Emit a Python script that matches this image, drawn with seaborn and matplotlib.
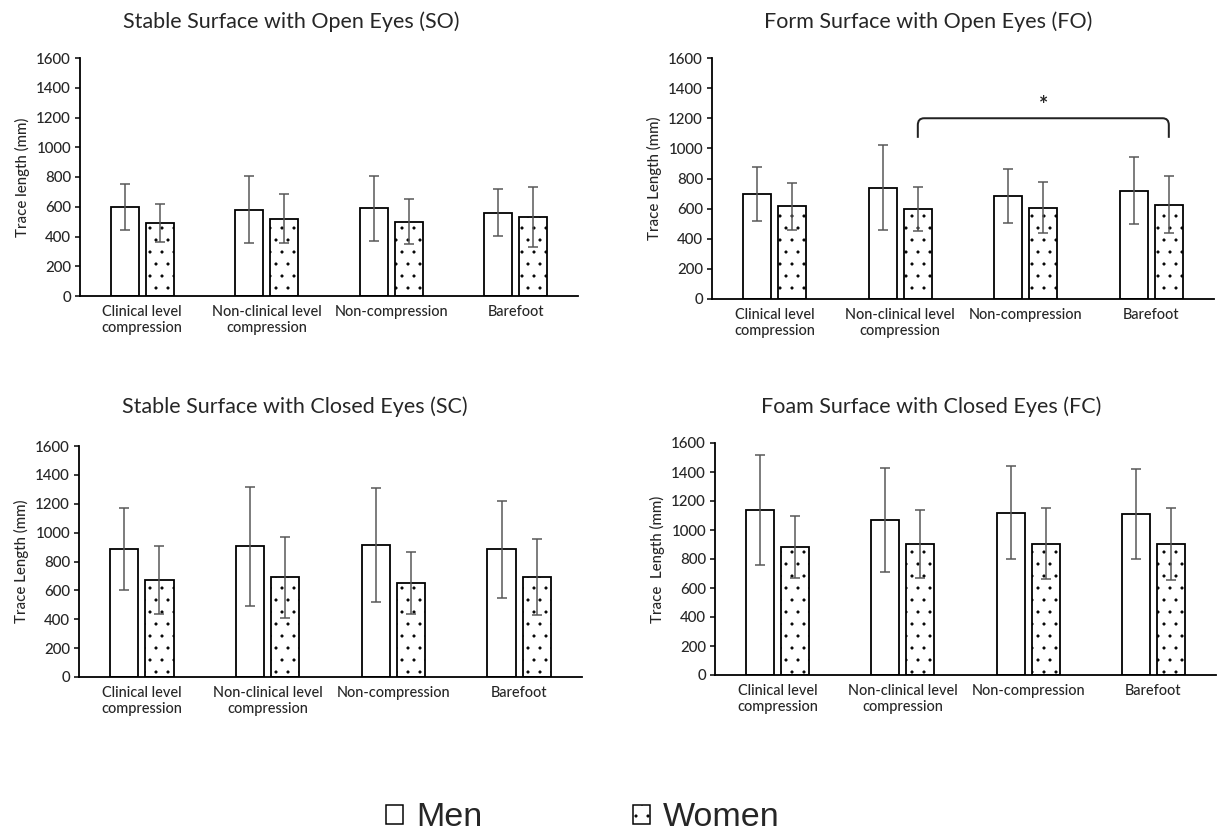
import numpy as np
import pandas as pd
import matplotlib
matplotlib.use("Agg")
import matplotlib.pyplot as plt
import seaborn as sns
from matplotlib.patches import Patch, PathPatch
from matplotlib.path import Path

# --- data ---
devices = ["Clinical level\ncompression", "Non-clinical level\ncompression",
           "Non-compression", "Barefoot"]
sexes = ["Men", "Women"]

so_men = [600, 580, 590, 560]
so_men_sd = [155, 225, 220, 158]
so_women = [490, 520, 500, 530]
so_women_sd = [130, 165, 150, 200]

fo_men = [695, 740, 685, 720]
fo_men_sd = [180, 285, 178, 222]
fo_women = [615, 598, 605, 625]
fo_women_sd = [155, 146, 170, 190]

sc_men = [885, 905, 915, 885]
sc_men_sd = [285, 410, 395, 335]
sc_women = [670, 690, 650, 690]
sc_women_sd = [237, 278, 213, 263]

fc_men = [1140, 1070, 1120, 1110]
fc_men_sd = [378, 360, 322, 313]
fc_women = [885, 905, 905, 905]
fc_women_sd = [215, 235, 245, 250]

titles = ["Stable Surface with Open Eyes (SO)", "Form Surface with Open Eyes (FO)",
          "Stable Surface with Closed Eyes (SC)", "Foam Surface with Closed Eyes (FC)"]
ylabels = ["Trace length (mm)", "Trace Length (mm)",
           "Trace Length (mm)", "Trace  Length (mm)"]
yticks = [0, 200, 400, 600, 800, 1000, 1200, 1400, 1600]

# significance bracket in FO panel (between women bars)
sig_pair = (1, 3)
sig_y = 1200
sig_label = "*"

panels = [
    (so_men, so_men_sd, so_women, so_women_sd),
    (fo_men, fo_men_sd, fo_women, fo_women_sd),
    (sc_men, sc_men_sd, sc_women, sc_women_sd),
    (fc_men, fc_men_sd, fc_women, fc_women_sd),
]

W, H, DPI = 1223, 835, 72

sns.set_theme(style="white")
plt.rcParams['font.family'] = ['Lato', 'DejaVu Sans']
plt.rcParams['hatch.linewidth'] = 0.6

fig = plt.figure(figsize=(W / DPI, H / DPI), dpi=DPI)

# axes boxes in pixels: left, right, top, bottom
boxes = [(80, 578, 58, 296), (712, 1214, 58, 299),
         (79, 582, 446, 677), (715, 1216, 443, 675)]
title_pos = [(291, 22), (928, 22), (295, 407), (931, 407)]

for i, (men, men_sd, women, women_sd) in enumerate(panels):
    l, r, t, b = boxes[i]
    ax = fig.add_axes([l / W, 1 - b / H, (r - l) / W, (b - t) / H])

    df = pd.DataFrame({
        "device": devices * 2,
        "sex": ["Men"] * 4 + ["Women"] * 4,
        "trace": men + women,
        "sd": men_sd + women_sd,
    })

    sns.barplot(data=df, x="device", y="trace", hue="sex", order=devices,
                hue_order=sexes, palette=["white", "white"], saturation=1,
                edgecolor="black", linewidth=1.8, width=0.56, gap=0.2,
                errorbar=None, legend=False, ax=ax)

    # dotted fill for women
    for bar in ax.containers[1]:
        bar.set_hatch(".")

    # error bars
    for cont, sds in zip(ax.containers, [men_sd, women_sd]):
        xs = [p.get_x() + p.get_width() / 2 for p in cont]
        ys = [p.get_height() for p in cont]
        ax.errorbar(xs, ys, yerr=sds, fmt="none", ecolor="#555555",
                    elinewidth=1.5, capsize=5, capthick=1.5, zorder=5)

    ax.set_xlim(-0.5, 3.5)
    ax.set_ylim(0, 1600)
    ax.set_yticks(yticks)
    ax.set_yticklabels([str(v) for v in yticks], fontsize=15, fontweight="medium")
    ax.set_xticks(range(len(devices)))
    ax.set_xticklabels(devices, fontsize=14.5, linespacing=1.2, fontweight="medium")
    ax.set_xticks(np.arange(-0.5, 4.0, 1.0), minor=True)
    ax.tick_params(axis="x", which="major", length=0, pad=9)
    ax.tick_params(axis="x", which="minor", length=10, width=1.5,
                   direction="inout", color="black")
    ax.tick_params(axis="y", which="major", length=5, width=1.5,
                   direction="out", color="black", left=True, pad=4)
    ax.set_xlabel("")
    ax.set_ylabel(ylabels[i], fontsize=15, labelpad=6, fontweight="medium")
    sns.despine(ax=ax)
    for side in ["left", "bottom"]:
        ax.spines[side].set_color("black")
        ax.spines[side].set_linewidth(1.8)

    fig.text(title_pos[i][0] / W, 1 - title_pos[i][1] / H, titles[i],
             ha="center", va="center", fontsize=21.5)

    if i == 1:
        women_x = [p.get_x() + p.get_width() / 2 for p in ax.containers[1]]
        x0, x1 = women_x[sig_pair[0]], women_x[sig_pair[1]]
        y_end = sig_y - 130
        verts = [(x0, y_end), (x0, sig_y - 45), (x0, sig_y), (x0 + 0.05, sig_y),
                 (x1 - 0.05, sig_y), (x1, sig_y), (x1, sig_y - 45), (x1, y_end)]
        codes = [Path.MOVETO, Path.LINETO, Path.CURVE3, Path.CURVE3,
                 Path.LINETO, Path.CURVE3, Path.CURVE3, Path.LINETO]
        ax.add_patch(PathPatch(Path(verts, codes), fill=False,
                               edgecolor="#222222", linewidth=2))
        ax.text((x0 + x1) / 2, sig_y + 85, sig_label, ha="center",
                va="center", fontsize=22, fontweight="bold")

handles = [Patch(facecolor="white", edgecolor="black", linewidth=1.5),
           Patch(facecolor="white", edgecolor="black", linewidth=1.5, hatch=".")]
fig.legend(handles, sexes, loc="center", bbox_to_anchor=(583 / W, 1 - 818 / H),
           ncol=2, frameon=False, handlelength=0.5, handleheight=0.45,
           handletextpad=0.4, columnspacing=4.4,
           prop={"family": "Liberation Sans", "size": 34})

fig.savefig("out.png", dpi=DPI, facecolor="white")
